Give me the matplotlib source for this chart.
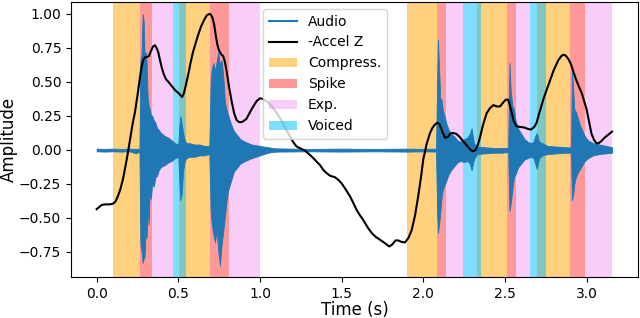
import matplotlib
matplotlib.use("Agg")
import matplotlib.pyplot as plt
from matplotlib.lines import Line2D

# ---- audio envelope (time, upper, lower) ----
audio_t = [0.00, 0.05, 0.10, 0.15, 0.20, 0.24, 0.262,
           0.268, 0.275, 0.282, 0.288, 0.294, 0.300, 0.306, 0.312, 0.318, 0.325,
           0.332, 0.340, 0.350, 0.360, 0.370, 0.380, 0.390, 0.400, 0.420, 0.440,
           0.460, 0.480, 0.500,
           0.505, 0.512, 0.520, 0.530, 0.540, 0.550, 0.570, 0.600, 0.630, 0.660, 0.690,
           0.698, 0.705, 0.715, 0.725, 0.735, 0.745, 0.755, 0.765, 0.775, 0.785,
           0.795, 0.805, 0.820, 0.840, 0.860, 0.880, 0.910, 0.950, 1.000,
           1.05, 1.10, 1.30, 1.50, 1.70, 1.90, 2.00, 2.078,
           2.085, 2.090, 2.097, 2.104, 2.112, 2.120, 2.130, 2.140, 2.155, 2.170,
           2.190, 2.210, 2.230, 2.250, 2.270, 2.285, 2.296, 2.310, 2.330, 2.380,
           2.430, 2.480, 2.520,
           2.528, 2.535, 2.545, 2.555, 2.565, 2.580, 2.600, 2.620, 2.640, 2.660,
           2.675, 2.685, 2.695, 2.710, 2.730, 2.760, 2.820, 2.880, 2.905,
           2.910, 2.918, 2.925, 2.935, 2.945, 2.960, 2.975, 2.990, 3.010, 3.040,
           3.080, 3.120, 3.156]
audio_hi = [0.010, 0.008, 0.010, 0.008, 0.010, 0.008, 0.010,
            0.66, 0.70, 1.00, 0.95, 0.68, 0.72, 0.65, 0.40, 0.33, 0.30,
            0.26, 0.25, 0.22, 0.20, 0.16, 0.15, 0.13, 0.12, 0.10, 0.09,
            0.07, 0.05, 0.04,
            0.15, 0.25, 0.20, 0.12, 0.07, 0.05, 0.05, 0.04, 0.04, 0.03, 0.03,
            0.50, 0.60, 0.64, 0.58, 0.65, 0.72, 0.62, 0.66, 0.55, 0.36,
            0.30, 0.26, 0.20, 0.14, 0.11, 0.08, 0.06, 0.04, 0.03,
            0.02, 0.012, 0.008, 0.010, 0.008, 0.010, 0.008, 0.010,
            0.50, 0.81, 0.60, 0.38, 0.37, 0.29, 0.25, 0.20, 0.15, 0.12,
            0.10, 0.07, 0.06, 0.08, 0.09, 0.12, 0.16, 0.05, 0.025, 0.02,
            0.015, 0.015, 0.015,
            0.64, 0.45, 0.33, 0.30, 0.22, 0.16, 0.12, 0.08, 0.06, 0.05,
            0.06, 0.10, 0.125, 0.06, 0.05, 0.03, 0.025, 0.02, 0.02,
            0.59, 0.45, 0.30, 0.28, 0.24, 0.18, 0.14, 0.10, 0.07, 0.05,
            0.04, 0.03, 0.02]
audio_lo = [-0.010, -0.012, -0.010, -0.012, -0.010, -0.025, -0.012,
            -0.70, -0.75, -0.83, -0.80, -0.78, -0.60, -0.65, -0.40, -0.55, -0.30,
            -0.36, -0.25, -0.27, -0.20, -0.19, -0.15, -0.13, -0.12, -0.11, -0.09,
            -0.08, -0.06, -0.05,
            -0.20, -0.37, -0.33, -0.15, -0.08, -0.06, -0.05, -0.05, -0.04, -0.04, -0.03,
            -0.45, -0.55, -0.62, -0.68, -0.58, -0.75, -0.85, -0.70, -0.60, -0.50,
            -0.38, -0.30, -0.24, -0.16, -0.13, -0.10, -0.08, -0.06, -0.04,
            -0.02, -0.012, -0.010, -0.012, -0.010, -0.012, -0.010, -0.012,
            -0.45, -0.61, -0.55, -0.46, -0.35, -0.29, -0.26, -0.23, -0.18, -0.15,
            -0.12, -0.09, -0.08, -0.09, -0.08, -0.10, -0.15, -0.07, -0.03, -0.025,
            -0.02, -0.02, -0.015,
            -0.45, -0.40, -0.30, -0.20, -0.18, -0.13, -0.10, -0.07, -0.06, -0.05,
            -0.06, -0.10, -0.14, -0.06, -0.04, -0.03, -0.025, -0.02, -0.02,
            -0.37, -0.33, -0.25, -0.20, -0.17, -0.14, -0.11, -0.08, -0.06, -0.04,
            -0.03, -0.025, -0.02]

# ---- negated accelerometer Z ----
accel_t = [0.000, 0.015, 0.030, 0.050, 0.080, 0.100, 0.115, 0.130, 0.145, 0.160,
           0.175, 0.190, 0.205, 0.220, 0.235, 0.250, 0.265, 0.275, 0.285, 0.295,
           0.310, 0.320, 0.330, 0.345, 0.357, 0.367, 0.377, 0.388, 0.398, 0.410,
           0.425, 0.440, 0.460, 0.480, 0.500, 0.515, 0.524, 0.535, 0.545, 0.560,
           0.575, 0.590, 0.605, 0.620, 0.640, 0.660, 0.675, 0.690, 0.700, 0.710,
           0.720, 0.730, 0.740, 0.750, 0.765, 0.775, 0.785, 0.796, 0.810, 0.827,
           0.842, 0.857, 0.872, 0.888, 0.903, 0.918, 0.940, 0.959, 0.980, 1.000,
           1.020, 1.050, 1.080, 1.110, 1.140, 1.160, 1.184, 1.205, 1.225, 1.250,
           1.276, 1.300, 1.327, 1.350, 1.367, 1.390, 1.408, 1.430, 1.459, 1.480,
           1.500, 1.525, 1.551, 1.572, 1.592, 1.612, 1.633, 1.660, 1.684, 1.710,
           1.735, 1.765, 1.792, 1.810, 1.830, 1.847, 1.865, 1.888, 1.910, 1.929,
           1.950, 1.969, 1.985, 2.000, 2.020, 2.040, 2.055, 2.070, 2.085, 2.100,
           2.115, 2.133, 2.150, 2.165, 2.180, 2.200, 2.220, 2.240, 2.255, 2.275,
           2.295, 2.306, 2.320, 2.335, 2.347, 2.365, 2.388, 2.410, 2.430, 2.450,
           2.470, 2.490, 2.505, 2.520, 2.530, 2.540, 2.555, 2.570, 2.590, 2.620,
           2.640, 2.660, 2.680, 2.694, 2.710, 2.735, 2.755, 2.776, 2.800, 2.827,
           2.845, 2.857, 2.872, 2.888, 2.905, 2.918, 2.935, 2.955, 2.970, 2.985,
           3.000, 3.015, 3.030, 3.045, 3.060, 3.075, 3.090, 3.110, 3.130, 3.156]
accel_v = [-0.435, -0.42, -0.405, -0.40, -0.40, -0.395, -0.38, -0.34, -0.29, -0.22,
           -0.13, -0.03, 0.08, 0.19, 0.28, 0.40, 0.53, 0.61, 0.66, 0.68,
           0.685, 0.69, 0.72, 0.76, 0.77, 0.75, 0.72, 0.66, 0.61, 0.56,
           0.52, 0.50, 0.47, 0.44, 0.42, 0.40, 0.39, 0.42, 0.47, 0.55,
           0.64, 0.72, 0.78, 0.84, 0.91, 0.96, 0.99, 1.00, 0.995, 0.97,
           0.92, 0.84, 0.77, 0.73, 0.70, 0.69, 0.65, 0.58, 0.47, 0.355,
           0.27, 0.22, 0.205, 0.205, 0.215, 0.23, 0.28, 0.32, 0.36, 0.38,
           0.375, 0.35, 0.31, 0.26, 0.20, 0.15, 0.10, 0.055, 0.025, 0.01,
           -0.005, -0.03, -0.06, -0.09, -0.11, -0.15, -0.17, -0.19, -0.20, -0.22,
           -0.245, -0.29, -0.34, -0.39, -0.44, -0.48, -0.515, -0.57, -0.61, -0.64,
           -0.66, -0.685, -0.71, -0.695, -0.665, -0.665, -0.675, -0.68, -0.645, -0.59,
           -0.48, -0.34, -0.21, -0.07, 0.04, 0.12, 0.16, 0.185, 0.20, 0.19,
           0.14, 0.09, 0.095, 0.12, 0.125, 0.12, 0.10, 0.07, 0.05, 0.02,
           -0.005, -0.01, 0.00, 0.04, 0.09, 0.18, 0.27, 0.31, 0.33, 0.32,
           0.32, 0.35, 0.37, 0.37, 0.33, 0.28, 0.21, 0.175, 0.17, 0.165,
           0.155, 0.15, 0.17, 0.20, 0.27, 0.37, 0.44, 0.51, 0.59, 0.66,
           0.69, 0.70, 0.695, 0.67, 0.63, 0.58, 0.52, 0.46, 0.42, 0.36,
           0.30, 0.21, 0.12, 0.075, 0.05, 0.05, 0.065, 0.09, 0.11, 0.135]

# ---- phase segments (start, end) in seconds ----
compress_start = [0.10, 0.506, 1.90, 2.327, 2.694]
compress_end = [0.266, 0.697, 2.082, 2.514, 2.898]
spike_start = [0.266, 0.697, 2.082, 2.514, 2.898]
spike_end = [0.340, 0.810, 2.139, 2.570, 2.993]
exp_start = [0.340, 0.810, 2.139, 2.570, 2.993]
exp_end = [0.465, 1.000, 2.245, 2.653, 3.154]
voiced_start = [0.465, 2.245, 2.653]
voiced_end = [0.546, 2.351, 2.751]

fig = plt.figure(figsize=(6.4, 3.18), dpi=100)
ax = fig.add_axes([71/640, 1 - 277/318, (638 - 71)/640, (277 - 2)/318])

audio_color = "#1f77b4"

def spans(starts, ends, color, alpha, label):
    first = None
    for s, e in zip(starts, ends):
        h = ax.axvspan(s, e, color=color, alpha=alpha, lw=0,
                       label=label if first is None else None)
        if first is None:
            first = h
    return first

h_c = spans(compress_start, compress_end, "orange", 0.5, "Compress.")
h_s = spans(spike_start, spike_end, "red", 0.4, "Spike")
h_e = spans(exp_start, exp_end, "violet", 0.4, "Exp.")
h_v = spans(voiced_start, voiced_end, "deepskyblue", 0.5, "Voiced")

ax.fill_between(audio_t, audio_lo, audio_hi, color=audio_color, lw=0.6,
                edgecolor=audio_color, zorder=2)
h_a = Line2D([], [], color=audio_color, lw=1.5, label="Audio")
h_k, = ax.plot(accel_t, accel_v, color="black", lw=1.5, label="-Accel Z", zorder=3)

ax.set_xlim(-0.157, 3.315)
ax.set_ylim(-0.934, 1.088)
ax.set_xticks([0.0, 0.5, 1.0, 1.5, 2.0, 2.5, 3.0])
ax.set_yticks([-0.75, -0.5, -0.25, 0.0, 0.25, 0.5, 0.75, 1.0])
ax.set_yticklabels(["\u22120.75", "\u22120.50", "\u22120.25", "0.00", "0.25",
                    "0.50", "0.75", "1.00"])
ax.tick_params(labelsize=10)
ax.set_xlabel("Time (s)", fontsize=12)
ax.set_ylabel("Amplitude", fontsize=12)
ax.yaxis.set_label_coords((17.6 - 71) / 567, 0.5)
ax.xaxis.set_label_coords(0.5, (277 - 301.0) / 275)

ax.legend(handles=[h_a, h_k, h_c, h_s, h_e, h_v], loc="upper left",
          bbox_to_anchor=(0.327, 1.0), fontsize=10)

fig.savefig("out.png", dpi=100)
